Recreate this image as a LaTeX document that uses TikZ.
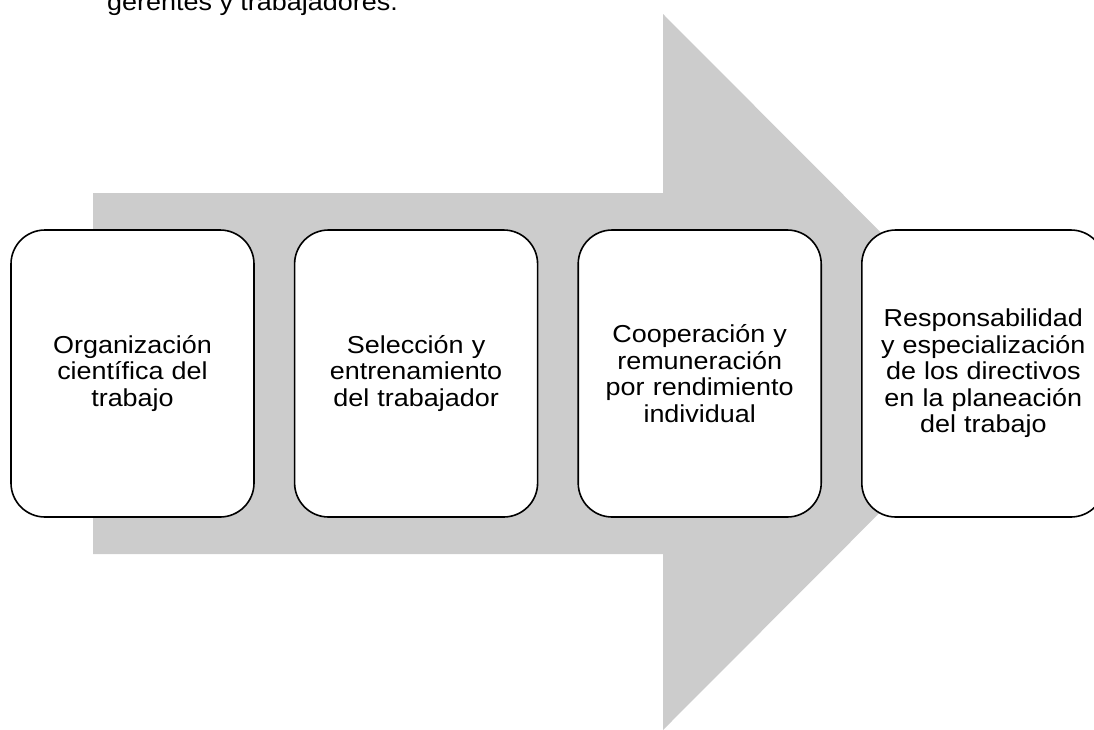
\documentclass[tikz,border=0pt]{standalone}
\usepackage{fontspec}
\setmainfont{Liberation Sans}[FakeStretch=1.1]
\usetikzlibrary{positioning}
\definecolor{grisflecha}{HTML}{CCCCCC}

\begin{document}
\begin{tikzpicture}[x=1pt,y=-1pt,
  etapa/.style={draw=black,line width=1.6pt,fill=white,rounded corners=34pt,
    minimum width=243pt,minimum height=287pt,text width=234pt,align=center,
    font=\fontsize{24.5}{26.5}\selectfont},
  node distance=39pt]
\useasboundingbox (0,0) rectangle (1094,729);
\clip (0,0) rectangle (1094,729);
\node[anchor=base west,inner sep=0pt,font=\fontsize{24.5}{26.5}\selectfont] (nota) at (107,10) {gerentes y trabajadores.};
\fill[grisflecha] (93,193) -- (663,193) -- (663,14) -- (1020,372) -- (663,730) -- (663,554) -- (93,554) -- cycle;
\node[etapa] (org) at (132.5,373.5) {Organización\\científica del\\trabajo};
\node[etapa,right=of org] (sel) {Selección y\\entrenamiento\\del trabajador};
\node[etapa,right=of sel] (coop) {Cooperación y\\remuneración\\por rendimiento\\individual};
\node[etapa,right=of coop] (resp) {Responsabilidad\\y especialización\\de los directivos\\en la planeación\\del trabajo};
\end{tikzpicture}
\end{document}
